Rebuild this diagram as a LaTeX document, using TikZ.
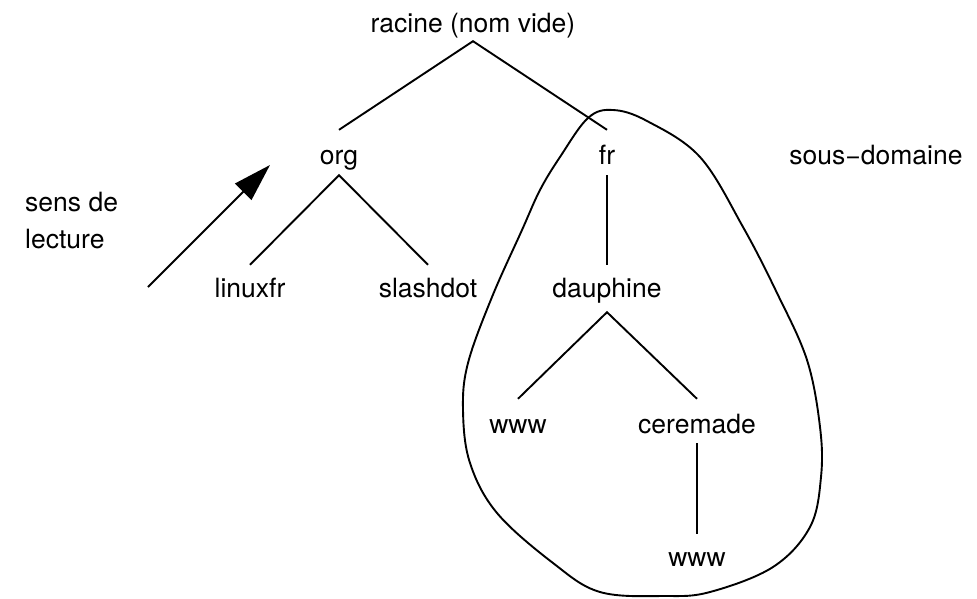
\documentclass[tikz,border=0pt]{standalone}
\usepackage{fontspec}
\setmainfont{TeX Gyre Heros}
\usetikzlibrary{arrows.meta}
\begin{document}
\begin{tikzpicture}[x=1pt,y=-1pt,
  tn/.style={inner sep=0pt, anchor=base, font=\fontsize{26.5}{37}\selectfont},
  edge/.style={line width=1.9pt},
  blob/.style={line width=1.9pt},
  readarrow/.style={line width=1.9pt, -{Triangle[length=38pt,width=23pt]}}]
\useasboundingbox (0,0) rectangle (977,598);
\node[tn, text height=19pt, text depth=9pt] (racine) at (473,32) {racine (nom vide)};
\node[tn, text height=34pt, text depth=11pt] (org) at (339,164) {org};
\node[tn, text height=34pt, text depth=11pt] (fr) at (607,164) {fr};
\node[tn] (sous) at (876,164) {sous−domaine};
\node[tn, anchor=base west, align=left] (sens) at (25,248) {sens de\\lecture};
\node[tn, text height=32pt] (linuxfr) at (250,297) {linuxfr};
\node[tn, text height=32pt] (slashdot) at (428,297) {slashdot};
\node[tn, text height=32pt, text depth=15pt] (dauphine) at (607,297) {dauphine};
\node[tn, text height=34pt] (www) at (518,433) {www};
\node[tn, text height=34pt, text depth=10pt] (ceremade) at (697,433) {ceremade};
\node[tn, text height=32pt] (wwwb) at (697,566) {www};
\coordinate (atail) at (148,287);
\coordinate (ahead) at (270,165);
\draw[edge] (org.north) -- (racine.south) -- (fr.north);
\draw[edge] (linuxfr.north) -- (org.south) -- (slashdot.north);
\draw[edge] (fr.south) -- (dauphine.north);
\draw[edge] (www.north) -- (dauphine.south) -- (ceremade.north);
\draw[edge] (ceremade.south) -- (wwwb.north);
\draw[readarrow] (atail) -- (ahead);
\draw[blob] plot[smooth cycle, tension=0.6] coordinates {
 (613,110) (647,121) (700,157) (743,227) (777,293) (807,360) (820,427)
 (821,477) (810,527) (773,567) (710,592) (665,596) (600,592) (553,563)
 (497,513) (470,463) (463,410) (468,363) (492,297) (522,230) (540,190)
 (560,157) (588,118)};
\end{tikzpicture}
\end{document}
